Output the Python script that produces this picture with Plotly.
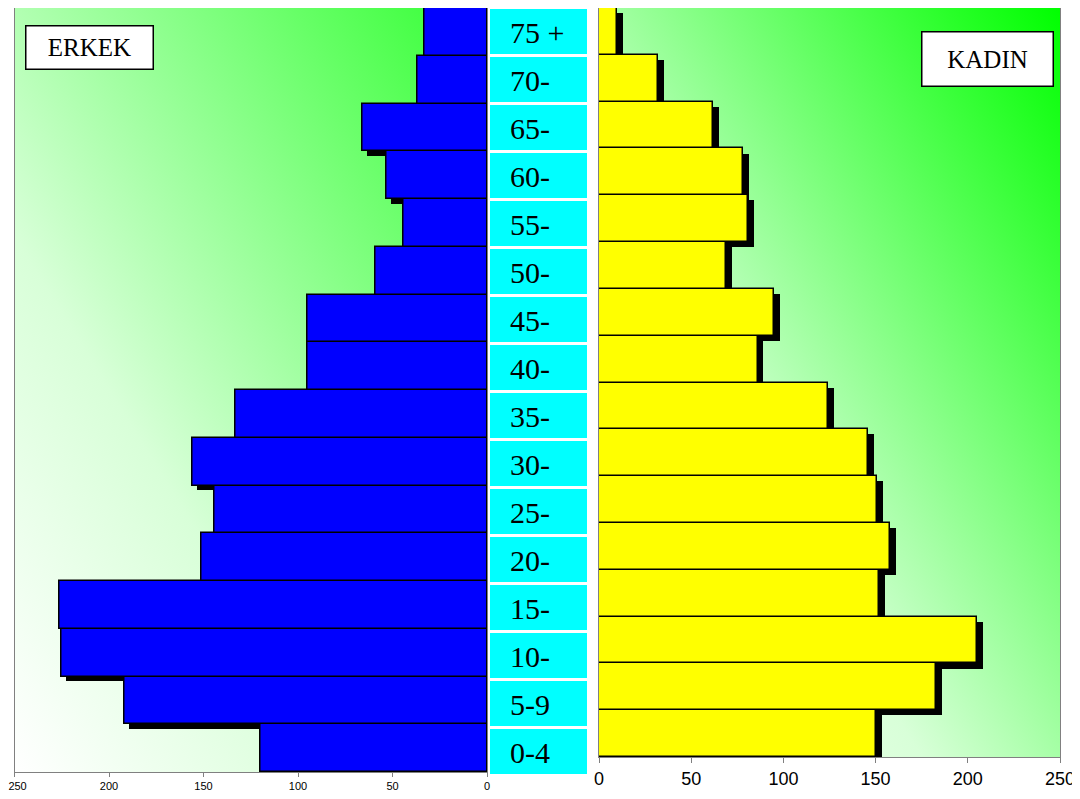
import base64
import plotly.graph_objects as go

# ---- data ----
age_groups = ["0-4", "5-9", "10-", "15-", "20-", "25-", "30-", "35-",
              "40-", "45-", "50-", "55-", "60-", "65-", "70-", "75 +"]
male = [120, 192, 225, 226, 151, 144, 156, 133, 95, 95, 59, 44, 53, 66, 37, 33]
female = [150, 183, 205, 152, 158, 151, 146, 124, 86, 95, 69, 81, 78, 62, 32, 10]
ticks = [0, 50, 100, 150, 200, 250]
tick_labels = ["0", "50", "100", "150", "200", "250"]

pos = list(range(len(age_groups)))

# page has an 8px body margin; figure sized to fit in the window
OFF = 8
W, H = 1080 - OFF, 799 - OFF


def fx(p):
    return max(0.0, min(1.0, (p - OFF) / W))


def fy(p):
    return max(0.0, min(1.0, 1 - (p - OFF) / H))


def grad_svg(c_end):
    svg = ('<svg xmlns="http://www.w3.org/2000/svg" width="100" height="100" '
           'preserveAspectRatio="none">'
           '<defs><linearGradient id="g" x1="0" y1="1" x2="1" y2="0">'
           '<stop offset="0" stop-color="#ffffff"/>'
           '<stop offset="0.35" stop-color="#d8ffd8"/>'
           f'<stop offset="1" stop-color="{c_end}"/>'
           '</linearGradient></defs>'
           '<rect width="100" height="100" fill="url(#g)"/></svg>')
    return "data:image/svg+xml;base64," + base64.b64encode(svg.encode()).decode()


# left-most label padded so it stays inside the page edge
left_tick_text = tick_labels[:-1] + ["\u00a0\u00a0" + tick_labels[-1]]

fig = go.Figure()

# left (male) shadow + bars
fig.add_trace(go.Bar(x=male, y=[p - 0.1 for p in pos], base=-2.1, orientation="h",
                     marker=dict(color="black", line=dict(width=0)), width=1,
                     xaxis="x", yaxis="y", hoverinfo="skip", showlegend=False))
fig.add_trace(go.Bar(x=male, y=pos, orientation="h", width=1,
                     marker=dict(color="#0000FF", line=dict(color="black", width=1.5)),
                     xaxis="x", yaxis="y", showlegend=False, name="ERKEK"))

# right (female) shadow + bars
fig.add_trace(go.Bar(x=female, y=[p - 0.11 for p in pos], base=3.2, orientation="h",
                     marker=dict(color="black", line=dict(width=0)), width=1,
                     xaxis="x2", yaxis="y2", hoverinfo="skip", showlegend=False))
fig.add_trace(go.Bar(x=female, y=pos, orientation="h", width=1,
                     marker=dict(color="#FFFF00", line=dict(color="black", width=1.5)),
                     xaxis="x2", yaxis="y2", showlegend=False, name="KADIN"))

# middle label column (boxes)
fig.add_trace(go.Bar(x=[1] * len(pos), y=pos, orientation="h", width=1,
                     marker=dict(color="#00FFFF", line=dict(color="white", width=3)),
                     xaxis="x3", yaxis="y3", hoverinfo="skip", showlegend=False))

label_annotations = [
    dict(text=g, xref="x3", yref="y3", x=0.19, y=p, xanchor="left", yanchor="middle",
         showarrow=False, font=dict(family="Liberation Serif", size=30, color="black"))
    for g, p in zip(age_groups, pos)
]

axis_line = dict(showline=True, linecolor="#808080", linewidth=1, mirror=True,
                 showgrid=False, zeroline=False, automargin=False)

fig.update_layout(
    width=W, height=H,
    margin=dict(l=0, r=0, t=0, b=0, autoexpand=False),
    paper_bgcolor="white", plot_bgcolor="rgba(0,0,0,0)",
    barmode="overlay", bargap=0,
    xaxis=dict(domain=[fx(14.5), fx(487)], range=[250, 0],
               tickmode="array", tickvals=ticks, ticktext=left_tick_text,
               ticks="outside", ticklen=4, tickcolor="#808080",
               ticklabeloverflow="allow",
               tickfont=dict(family="Liberation Sans", size=11, color="black"),
               anchor="y", **axis_line),
    yaxis=dict(domain=[fy(772), fy(5)], range=[-0.5, 15.5],
               showticklabels=False, ticks="", anchor="x", **axis_line),
    xaxis2=dict(domain=[fx(599), fx(1060)], range=[0, 250],
                tickmode="array", tickvals=ticks, ticktext=tick_labels,
                ticks="outside", ticklen=5, tickcolor="#808080",
                ticklabeloverflow="allow",
                tickfont=dict(family="Liberation Sans", size=18, color="black"),
                anchor="y2", **axis_line),
    yaxis2=dict(domain=[fy(757), fy(5)], range=[-0.5, 15.5],
                showticklabels=False, ticks="", anchor="x2", **axis_line),
    xaxis3=dict(domain=[fx(489), fx(589)], range=[0, 1], visible=False,
                anchor="y3", automargin=False),
    yaxis3=dict(domain=[fy(776), fy(0)], range=[-0.5, 15.5], visible=False,
                anchor="x3", automargin=False),
    images=[
        dict(source=grad_svg("#33ff33"), xref="x domain", yref="y domain",
             x=0, y=1, sizex=1, sizey=1, xanchor="left", yanchor="top",
             sizing="stretch", layer="below"),
        dict(source=grad_svg("#00ff00"), xref="x2 domain", yref="y2 domain",
             x=0, y=1, sizex=1, sizey=1, xanchor="left", yanchor="top",
             sizing="stretch", layer="below"),
    ],
    annotations=label_annotations + [
        dict(text="ERKEK", xref="paper", yref="paper", x=fx(89.5), y=fy(47.5),
             xanchor="center", yanchor="middle", showarrow=False,
             font=dict(family="Liberation Serif", size=25, color="black"),
             bgcolor="white", bordercolor="black", borderwidth=1.5, borderpad=0,
             width=126, height=42),
        dict(text="KADIN", xref="paper", yref="paper", x=fx(987.5), y=fy(59),
             xanchor="center", yanchor="middle", showarrow=False,
             font=dict(family="Liberation Serif", size=25, color="black"),
             bgcolor="white", bordercolor="black", borderwidth=1.5, borderpad=0,
             width=130, height=53),
    ],
)

fig.write_html("out.html")
